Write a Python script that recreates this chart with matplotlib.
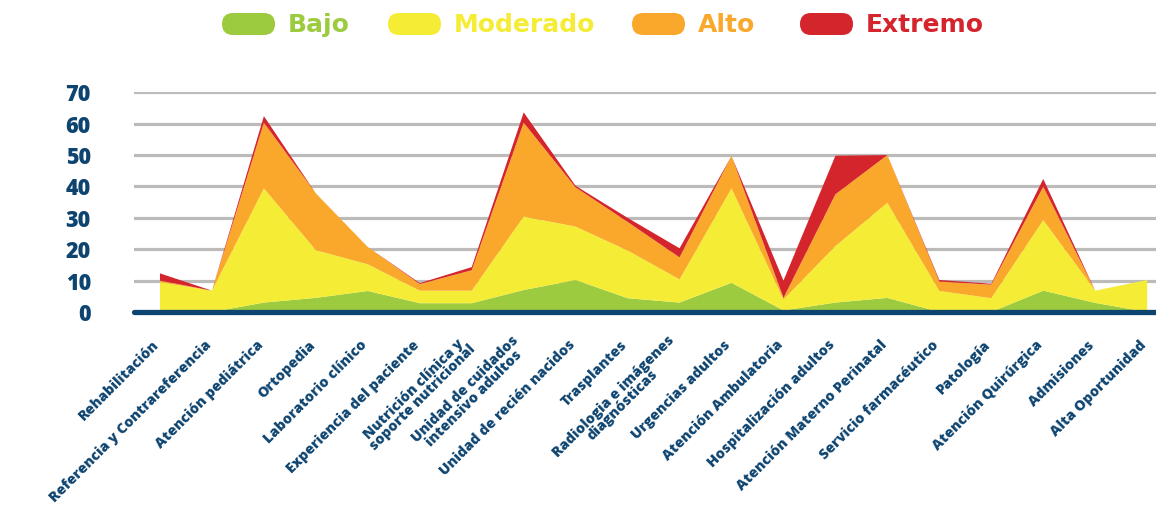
import numpy as np
import matplotlib
matplotlib.use("Agg")
import matplotlib.pyplot as plt
from matplotlib.patches import FancyBboxPatch
import matplotlib.transforms as mtransforms

categories = [
    "Rehabilitación", "Referencia y Contrareferencia", "Atención pediátrica",
    "Ortopedia", "Laboratorio clínico", "Experiencia del paciente",
    "Nutrición clínica y\nsoporte nutricional", "Unidad de cuidados\nintensivo adultos",
    "Unidad de recién nacidos", "Trasplantes", "Radiologia e imágenes\ndiagnósticas",
    "Urgencias adultos", "Atención Ambulatoria", "Hospitalización adultos",
    "Atención Materno Perinatal", "Servicio farmacéutico", "Patología",
    "Atención Quirúrgica", "Admisiones", "Alta Oportunidad",
]
bajo = [0, 0, 3, 4.5, 6.7, 2.8, 2.8, 7, 10.2, 4.4, 3, 9.3, 0.5, 3, 4.5, 0, 0, 6.8, 2.9, 0]
moderado = [9.5, 6.8, 36.4, 15.2, 8.5, 4, 4, 23.4, 17, 15.2, 7.4, 30.1, 3.5, 18, 30.3, 6.7, 4.4, 22.5, 3.9, 10.2]
alto = [0.5, 0, 20.9, 18.1, 5.5, 2.1, 6.5, 29.9, 12.5, 9.1, 7, 10.3, 0.5, 16.5, 15.2, 3, 4.3, 10.6, 0, 0]
extremo = [2.3, 0, 2.1, 0, 0, 0.3, 1, 3.3, 0.5, 1.3, 2.9, 0, 5.5, 12.3, 0, 0.5, 0.3, 2.5, 0, 0]

series_names = ["Bajo", "Moderado", "Alto", "Extremo"]
colors = ["#9DCB3F", "#F5EC35", "#F9A82B", "#D4242C"]
navy = "#0E4470"

fig = plt.figure(figsize=(11.56, 5.31), dpi=100)
ax = fig.add_axes([134 / 1156, 1 - 312 / 531, 1 - 134 / 1156, (312 - 92.3) / 531])

x = np.arange(len(categories))
ax.stackplot(x, bajo, moderado, alto, extremo, colors=colors, linewidth=0, zorder=2)

ax.set_xlim(-0.5, 19.17)
ax.set_ylim(0, 70)
ax.set_yticks(range(0, 80, 10))
for v in range(10, 80, 10):
    ax.axhline(v, color="#BDBABA", linewidth=2.3, zorder=1)
ax.axhline(0, color=navy, linewidth=3.8, solid_capstyle="round", zorder=3, clip_on=False)

for s in ax.spines.values():
    s.set_visible(False)
ax.tick_params(axis="both", length=0)

tick_font = dict(family=["Open Sans", "DejaVu Sans"], weight=800, color=navy)
ax.set_yticklabels([str(v) for v in range(0, 80, 10)], fontsize=15.5, **tick_font)
ax.tick_params(axis="y", pad=31)

ax.set_xticks(x)
ax.set_xticklabels(categories, fontsize=10.3, rotation=45, ha="right", va="center",
                   rotation_mode="anchor", multialignment="center", linespacing=0.82,
                   **tick_font)
offset = mtransforms.ScaledTranslation(-3 / 100, -26 / 100, fig.dpi_scale_trans)
for lab in ax.get_xticklabels():
    lab.set_transform(lab.get_transform() + offset)

# legend drawn in pixel space
lax = fig.add_axes([0, 0, 1, 1], zorder=5)
lax.set_xlim(0, 1156)
lax.set_ylim(531, 0)
lax.axis("off")
pill_x = [222, 388, 632, 800]
for name, c, px in zip(series_names, colors, pill_x):
    lax.add_patch(FancyBboxPatch((px, 13), 53, 22, boxstyle="round,pad=0,rounding_size=11",
                                 facecolor=c, edgecolor="none"))
    lax.text(px + 66, 25, name, color=c, fontsize=18, weight="bold",
             family=["Liberation Sans Narrow", "DejaVu Sans"], va="center", ha="left")

fig.savefig("out.png", dpi=100)
